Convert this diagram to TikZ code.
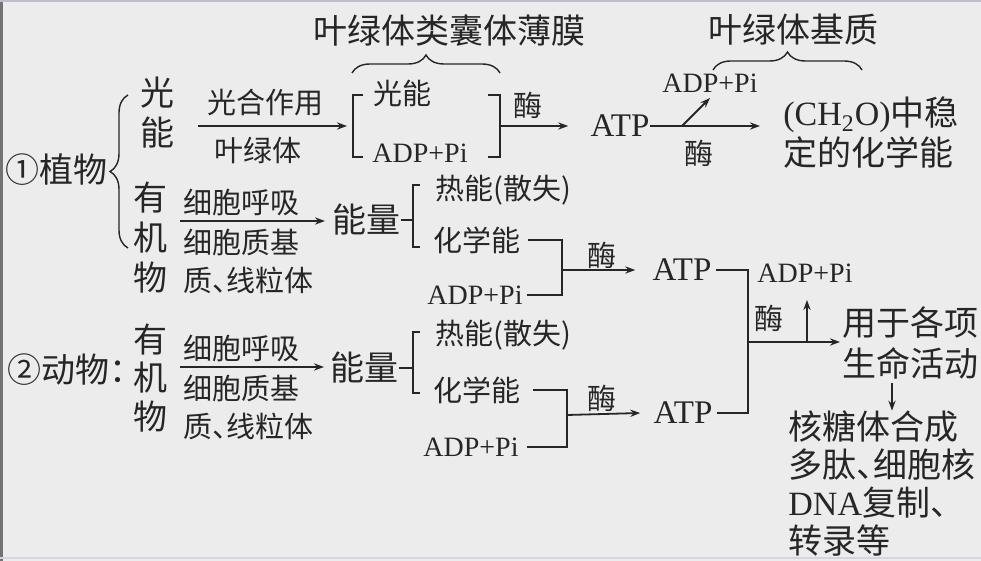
\documentclass[tikz,border=0pt]{standalone}
\usepackage{fontspec}
\setmainfont{Liberation Serif}
\newfontfamily\cjk{Noto Sans CJK SC}
\usetikzlibrary{arrows.meta,decorations.pathreplacing}
\newcommand{\halfw}[1]{\makebox[0.5em][l]{#1}}

\begin{document}
\begin{tikzpicture}[x=0.5pt,y=-0.5pt,
    big/.style={inner sep=0pt,text=black!85,font=\cjk\fontsize{17}{20}\selectfont},
    small/.style={inner sep=0pt,text=black!85,font=\cjk\fontsize{14.5}{19}\selectfont},
    bigl/.style={inner sep=0pt,text=black!85,font=\fontsize{16.5}{20}\selectfont},
    smalll/.style={inner sep=0pt,text=black!85,font=\fontsize{14}{19}\selectfont},
    wire/.style={draw=black!85,line width=0.9pt},
    arr/.style={wire,-{Stealth[length=5pt,width=3.6pt]}},
    curly/.style={draw=black!85,line width=0.7pt,decorate,decoration={brace,amplitude=9pt}}]

    \fill[gray!15] (0,0) rectangle (981,561);
    \fill[black!55] (0,0) rectangle (3,561);
    \fill[blue!15!gray!45] (0,0) rectangle (981,2);
    \fill[blue!10!gray!30] (0,557) rectangle (981,559);
    \useasboundingbox (0,0) rectangle (981,561);

    % (1) plants
    \node[big,anchor=west] (plant) at (5,170) {①植物};
    \coordinate (bt) at (128,95);
    \coordinate (bb) at (128,248);
    \draw[curly] (bb) -- (bt);
    \node[big,align=center] (light) at (157,113) {光\\能};
    \node[big,align=center] (org1) at (150,238) {有\\机\\物};

    % light reactions
    \coordinate (in1) at (198,126);
    \coordinate (k1) at (353,126);
    \coordinate (k1r) at (500,126);
    \node[small] (psyn) at (265,103) {光合作用};
    \node[small] (chl) at (258,150) {叶绿体};
    \draw[arr] (in1) -- ([xshift=-3pt]k1);
    \node[small,anchor=west] (light2) at (373,93) {光能};
    \node[smalll,anchor=west] (adp1) at (372,153) {ADP+Pi};
    \draw[wire] (363,95) -- (353,95) -- (353,157) -- (363,157);
    \draw[wire] (488,95) -- (500,95) -- (500,157) -- (488,157);
    \node[big] (thyl) at (449,31) {叶绿体类囊体薄膜};
    \draw[curly] (352,73) -- (500,73);
    \node[small] (enz1) at (528,105) {酶};
    \node[bigl] (atp1) at (620,126) {ATP};
    \draw[arr] (k1r) -- ([xshift=-11pt]atp1.west);

    % dark reactions
    \coordinate (fork) at (682,126);
    \coordinate (up1) at (710,98);
    \node[small] (enz2) at (699,153) {酶};
    \node[smalll] (adp2) at (710,83) {ADP+Pi};
    \node[big,anchor=west,align=left] (ch2o) at (783,133) {{\rmfamily(CH\textsubscript{2}O)}中稳\\定的化学能};
    \draw[arr] (atp1.east) -- ([xshift=-11.5pt]ch2o.west|-atp1);
    \draw[arr] (fork) -- (up1);
    \node[big] (stroma) at (793,30) {叶绿体基质};
    \draw[curly] (713,70) -- (862,70);

    % respiration in plants
    \coordinate (in2) at (180,221);
    \node[small,anchor=west] (resp1) at (183,202) {细胞呼吸};
    \node[small,anchor=west,align=left] (site1) at (183,261) {细胞质基\\质\halfw{、}线粒体};
    \node[big,anchor=west] (en1) at (332,220) {能量};
    \draw[arr] (in2) -- ([xshift=-3.5pt]en1.west|-in2);
    \node[small,anchor=west] (heat1) at (435,190) {热能(散失)};
    \node[small,anchor=west] (chem1) at (433,240) {化学能};
    \node[smalll,anchor=west] (adp3) at (427,295) {ADP+Pi};
    \draw[wire] (en1.east) -- (413,220);
    \draw[wire] (420,185) -- (413,185) -- (413,247) -- (420,247);
    \coordinate (j1) at (562,270);
    \draw[wire] ([xshift=3.5pt]chem1.east) -| (j1) |- ([xshift=2pt]adp3.east);
    \node[small] (enz3) at (602,255) {酶};
    \node[bigl] (atp2) at (682,270) {ATP};
    \draw[arr] (j1) -- ([xshift=-8.5pt]atp2.west);

    % (2) animals
    \node[big,anchor=west] (animal) at (7,370) {②动物\halfw{：}};
    \node[big,align=center,font=\cjk\fontsize{17}{19.25}\selectfont] (org2) at (150,378) {有\\机\\物};
    \coordinate (in3) at (180,367);
    \node[small,anchor=west] (resp2) at (183,348) {细胞呼吸};
    \node[small,anchor=west,align=left] (site2) at (183,407.5) {细胞质基\\质\halfw{、}线粒体};
    \node[big,anchor=west] (en2) at (330,368) {能量};
    \draw[arr] (in3) -- ([xshift=-3pt]en2.west|-in3);
    \node[small,anchor=west] (heat2) at (435,335) {热能(散失)};
    \node[small,anchor=west] (chem2) at (433,390) {化学能};
    \node[smalll,anchor=west] (adp5) at (423,447) {ADP+Pi};
    \draw[wire] (en2.east) -- (413,368);
    \draw[wire] (420,332) -- (413,332) -- (413,393) -- (420,393);
    \coordinate (j2) at (567,415);
    \draw[wire] ([xshift=6pt]chem2.east) -| (j2) |- ([xshift=4pt]adp5.east);
    \node[small] (enz4) at (602,398) {酶};
    \node[bigl] (atp3) at (683,413) {ATP};
    \draw[arr] (j2) -- ([xshift=-6.5pt]atp3.west);

    % use of ATP
    \coordinate (j3) at (748,342);
    \coordinate (j4) at (807,342);
    \draw[wire] ([xshift=2pt]atp2.east) -| (j3) |- ([xshift=2pt]atp3.east);
    \node[smalll,anchor=west] (adp4) at (757,273) {ADP+Pi};
    \node[small] (enz5) at (769,318) {酶};
    \node[big,anchor=west,align=left,font=\cjk\fontsize{17}{20.5}\selectfont] (use) at (842,342.5) {用于各项\\生命活动};
    \draw[arr] (j3) -- ([xshift=-1pt]use.west|-j3);
    \draw[arr] (j4) -- ++(0,-42);
    \node[big,anchor=west,align=left,font=\cjk\fontsize{17}{18.9}\selectfont] (work) at (788,483.5) {核糖体合成\\多肽\halfw{、}细胞核\\{\rmfamily DNA}复制、\\转录等};
    \coordinate (d1) at (892,383);
    \draw[arr] (d1) -- (d1|-work.north);
\end{tikzpicture}
\end{document}
